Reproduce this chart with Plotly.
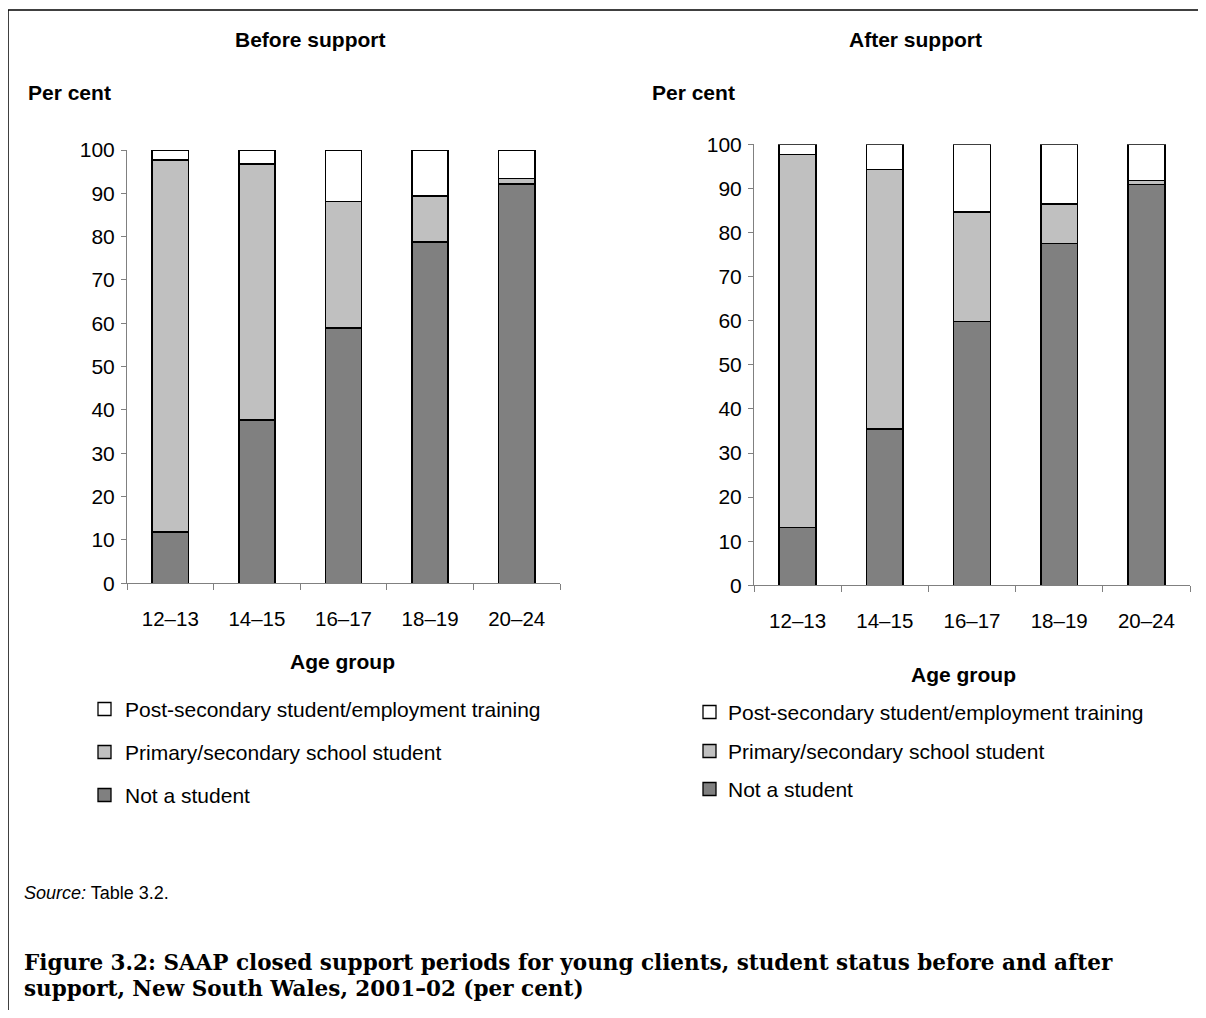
import plotly.graph_objects as go

# page body has an 8px margin; figure sized so the page does not overflow
OFF = 8
W, H = 1190, 1002

categories = ["12–13", "14–15", "16–17", "18–19", "20–24"]
series_names = ["Post-secondary student/employment training",
                "Primary/secondary school student",
                "Not a student"]
series_colors = ["#FFFFFF", "#C0C0C0", "#808080"]

before_not_student = [11.9, 37.7, 58.9, 78.8, 92.2]
before_primary_secondary = [85.8, 59.1, 29.2, 10.6, 1.2]
before_post_secondary = [2.3, 3.2, 11.9, 10.6, 6.6]

after_not_student = [13.1, 35.4, 59.8, 77.5, 90.9]
after_primary_secondary = [84.6, 58.9, 24.9, 9.0, 0.9]
after_post_secondary = [2.3, 5.7, 15.3, 13.5, 8.2]

y_ticks = [0, 10, 20, 30, 40, 50, 60, 70, 80, 90, 100]

FONT = "Liberation Sans, Arial, sans-serif"
SERIF = "DejaVu Serif, serif"


def px(x):
    return (x - OFF) / W


def py(y):
    return 1 - (y - OFF) / H


fig = go.Figure()

panels = [
    ("x", "y", [before_post_secondary, before_primary_secondary, before_not_student]),
    ("x2", "y2", [after_post_secondary, after_primary_secondary, after_not_student]),
]
for xa, ya, vals in panels:
    for i in [2, 1, 0]:
        fig.add_trace(go.Bar(
            x=categories, y=vals[i], name=series_names[i],
            marker=dict(color=series_colors[i], line=dict(color="black", width=1.6)),
            xaxis=xa, yaxis=ya, showlegend=False, hoverinfo="skip",
        ))

axis_common_y = dict(
    range=[0, 100], tickvals=y_ticks, showgrid=False, zeroline=False,
    showline=True, linecolor="#808080", linewidth=1, ticks="outside",
    ticklen=5, tickcolor="#808080", automargin=False,
    tickfont=dict(family=FONT, size=21, color="black"), ticklabelstandoff=2,
)
axis_common_x = dict(
    type="category", showgrid=False, showline=True, linecolor="#808080",
    linewidth=1, ticks="outside", ticklen=6, tickcolor="#808080",
    tickson="boundaries", automargin=False,
    tickfont=dict(family=FONT, size=20.5, color="black"), ticklabelstandoff=17,
)

fig.update_layout(
    template="none",
    width=W, height=H, autosize=False,
    margin=dict(l=0, r=0, t=0, b=0, pad=0, autoexpand=False),
    paper_bgcolor="white", plot_bgcolor="white",
    barmode="stack", bargap=0.58,
    xaxis=dict(domain=[px(127), px(560)], anchor="y", **axis_common_x),
    yaxis=dict(domain=[py(583.3), py(150)], anchor="x", **axis_common_y),
    xaxis2=dict(domain=[px(754), px(1190)], anchor="y2", **axis_common_x),
    yaxis2=dict(domain=[py(585.3), py(144.3)], anchor="x2", **axis_common_y),
)

ann = []


def text(x, y, s, size, bold=False, xanchor="left", family=FONT):
    if bold:
        s = "<b>" + s + "</b>"
    ann.append(dict(x=px(x), y=py(y), xref="paper", yref="paper", text=s,
                    showarrow=False, xanchor=xanchor, yanchor="middle",
                    xshift=-2 if xanchor == "left" else 0,
                    font=dict(family=family, size=size, color="black")))


text(310, 40, "Before support", 21, bold=True, xanchor="center")
text(915, 40, "After support", 21, bold=True, xanchor="center")
text(28, 92, "Per cent", 21, bold=True)
text(652, 92, "Per cent", 21, bold=True)
text(342, 661, "Age group", 21, bold=True, xanchor="center")
text(963, 674, "Age group", 21, bold=True, xanchor="center")

shapes = []
legend_rows = [(98, 125, [709, 752, 795]), (703, 728, [712, 751, 789])]
for sx, tx, ys in legend_rows:
    for i, yy in enumerate(ys):
        shapes.append(dict(type="rect", xref="paper", yref="paper",
                           x0=px(sx), x1=px(sx + 13), y0=py(yy + 6.5), y1=py(yy - 6.5),
                           fillcolor=series_colors[i], line=dict(color="black", width=1.3)))
        text(tx, yy, series_names[i], 21)

ann.append(dict(x=px(24), y=py(893), xref="paper", yref="paper",
                text="<i>Source:</i> Table 3.2.", showarrow=False,
                xanchor="left", yanchor="middle", xshift=-2,
                font=dict(family=FONT, size=18, color="black")))

text(24, 962, "Figure 3.2: SAAP closed support periods for young clients, student status before and after", 21.5, bold=True, family=SERIF)
text(24, 988, "support, New South Wales, 2001–02 (per cent)", 21.5, bold=True, family=SERIF)

# frame lines (top and left)
shapes.append(dict(type="line", xref="paper", yref="paper", x0=px(8), x1=1, y0=py(10), y1=py(10),
                   line=dict(color="black", width=1.5)))
shapes.append(dict(type="line", xref="paper", yref="paper", x0=px(8), x1=px(8), y0=py(10), y1=0,
                   line=dict(color="black", width=1.5)))

fig.update_layout(annotations=ann, shapes=shapes)

fig.write_html("out.html")
